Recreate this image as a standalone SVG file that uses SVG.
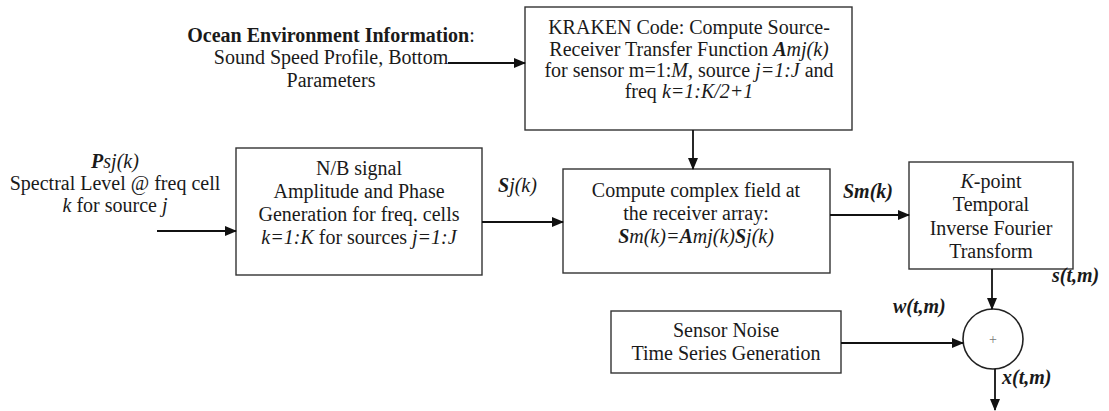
<svg xmlns="http://www.w3.org/2000/svg" width="1109" height="411" viewBox="0 0 1109 411" font-family="'Liberation Serif', 'DejaVu Serif', serif">
<defs>
<style>
text{font-family:'Liberation Serif','DejaVu Serif',serif;font-size:20px;fill:#1a1a1a}
.c{text-anchor:middle}
.i{font-style:italic}
.b{font-weight:bold}
.bi{font-weight:bold;font-style:italic}
.box{fill:#fff;stroke:#333;stroke-width:1.4}
.ln{fill:none;stroke:#111;stroke-width:1.8;marker-end:url(#ah)}
</style>
<marker id="ah" markerWidth="12" markerHeight="10" refX="11" refY="5" orient="auto" markerUnits="userSpaceOnUse">
<path d="M0,0 L12,5 L0,10 z" fill="#111"/>
</marker>
</defs>
<rect width="1109" height="411" fill="#fff"/>

<g id="ocean">
<text class="c" x="331" y="42"><tspan class="b">Ocean Environment Information</tspan>:</text>
<text class="c" x="331" y="64">Sound Speed Profile, Bottom</text>
<text class="c" x="331" y="87">Parameters</text>
</g>

<g id="kraken">
<rect class="box" x="525" y="7" width="327" height="123"/>
<text class="c" x="689" y="34">KRAKEN Code: Compute Source-</text>
<text class="c" x="689" y="56">Receiver Transfer Function <tspan class="bi">A</tspan><tspan class="i">mj(k)</tspan></text>
<text class="c" x="689" y="77">for sensor m=1:<tspan class="i">M</tspan>, source <tspan class="i">j=1:J</tspan> and</text>
<text class="c" x="689" y="98">freq <tspan class="i">k=1:K/2+1</tspan></text>
</g>

<g id="input">
<text class="c" x="115" y="168"><tspan class="bi">P</tspan><tspan class="i">sj(k)</tspan></text>
<text class="c" x="115" y="190">Spectral Level @ freq cell</text>
<text class="c" x="115" y="212"><tspan class="i">k</tspan> for source <tspan class="i">j</tspan></text>
</g>

<g id="nb">
<rect class="box" x="236" y="148" width="246" height="127"/>
<text class="c" x="359" y="175">N/B signal</text>
<text class="c" x="359" y="198">Amplitude and Phase</text>
<text class="c" x="359" y="221">Generation for freq. cells</text>
<text class="c" x="359" y="244"><tspan class="i">k=1:K</tspan> for sources <tspan class="i">j=1:J</tspan></text>
</g>

<g id="compute">
<rect class="box" x="563" y="169" width="267" height="104"/>
<text class="c" x="696" y="197">Compute complex field at</text>
<text class="c" x="696" y="220">the receiver array:</text>
<text class="c" x="696" y="243"><tspan class="bi">S</tspan><tspan class="i">m(k)=</tspan><tspan class="bi">A</tspan><tspan class="i">mj(k)</tspan><tspan class="bi">S</tspan><tspan class="i">j(k)</tspan></text>
</g>

<g id="ifft">
<rect class="box" x="909" y="162" width="164" height="107"/>
<text class="c" x="991" y="188"><tspan class="i">K</tspan>-point</text>
<text class="c" x="991" y="211">Temporal</text>
<text class="c" x="991" y="235">Inverse Fourier</text>
<text class="c" x="991" y="258">Transform</text>
</g>

<g id="noise">
<rect class="box" x="611" y="311" width="230" height="62"/>
<text class="c" x="726" y="337">Sensor Noise</text>
<text class="c" x="726" y="360">Time Series Generation</text>
</g>

<g id="sum">
<circle cx="993" cy="339" r="30" fill="#fff" stroke="#222" stroke-width="1.6"/>
<text class="c" x="993" y="344" style="font-size:14px;fill:#777">+</text>
</g>

<g id="labels">
<text x="498" y="192"><tspan class="bi">S</tspan><tspan class="i">j(k)</tspan></text>
<text x="843" y="198" class="bi">Sm(k)</text>
<text x="1052" y="282" class="bi">s(t,m)</text>
<text x="893" y="313" class="bi">w(t,m)</text>
<text x="1002" y="384" class="bi">x(t,m)</text>
</g>

<g id="connectors">
<path class="ln" d="M448,63 H525"/>
<path class="ln" d="M157,231 H236"/>
<path class="ln" d="M482,222 H563"/>
<path class="ln" d="M693,130 V169"/>
<path class="ln" d="M830,215 H909"/>
<path class="ln" d="M992,269 V309"/>
<path class="ln" d="M841,343 H963"/>
<path class="ln" d="M995,369 V410"/>
</g>
</svg>
